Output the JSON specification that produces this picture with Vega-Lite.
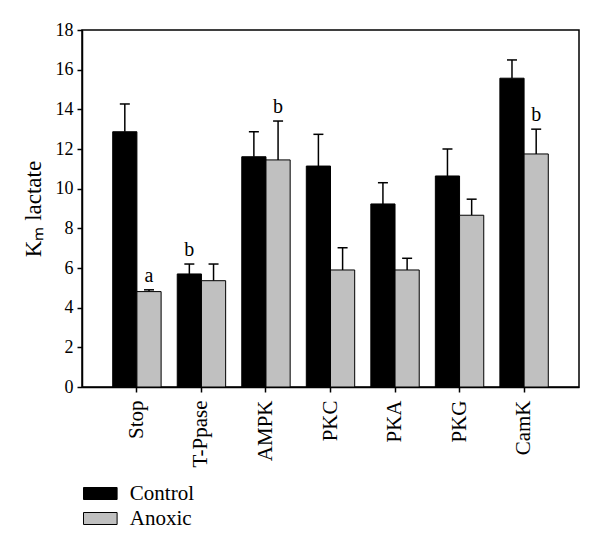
{
  "$schema": "https://vega.github.io/schema/vega-lite/v6.json",
  "width": 497,
  "height": 357,
  "autosize": "none",
  "padding": {"left": 82, "top": 30, "right": 21, "bottom": 166},
  "background": "white",
  "config": {
    "view": {"stroke": "black", "strokeWidth": 1.5},
    "font": "Liberation Serif",
    "axis": {"labelFont": "Liberation Serif", "titleFont": "Liberation Serif", "labelColor": "black", "titleColor": "black", "domainColor": "black", "tickColor": "black", "grid": false, "labelFontSize": 18, "tickSize": 5, "domainWidth": 1.5, "tickWidth": 1.5, "labelOverlap": false},
    "axisY": {"values": [0, 2, 4, 6, 8, 10, 12, 14, 16, 18], "labelPadding": 4, "titlePadding": 10, "titleFontSize": 23, "titleFontWeight": "normal"}
  },
  "data": {
    "values": [
      {"category": "Stop", "group": "Control", "value": 12.87, "err": 14.27, "letter": ""},
      {"category": "Stop", "group": "Anoxic", "value": 4.81, "err": 4.9, "letter": "a"},
      {"category": "T-Ppase", "group": "Control", "value": 5.70, "err": 6.20, "letter": "b"},
      {"category": "T-Ppase", "group": "Anoxic", "value": 5.36, "err": 6.20, "letter": ""},
      {"category": "AMPK", "group": "Control", "value": 11.61, "err": 12.87, "letter": ""},
      {"category": "AMPK", "group": "Anoxic", "value": 11.45, "err": 13.41, "letter": "b"},
      {"category": "PKC", "group": "Control", "value": 11.14, "err": 12.74, "letter": ""},
      {"category": "PKC", "group": "Anoxic", "value": 5.90, "err": 7.02, "letter": ""},
      {"category": "PKA", "group": "Control", "value": 9.23, "err": 10.30, "letter": ""},
      {"category": "PKA", "group": "Anoxic", "value": 5.90, "err": 6.49, "letter": ""},
      {"category": "PKG", "group": "Control", "value": 10.64, "err": 12.0, "letter": ""},
      {"category": "PKG", "group": "Anoxic", "value": 8.66, "err": 9.47, "letter": ""},
      {"category": "CamK", "group": "Control", "value": 15.57, "err": 16.49, "letter": ""},
      {"category": "CamK", "group": "Anoxic", "value": 11.75, "err": 13.0, "letter": "b"}
    ]
  },
  "encoding": {
    "x": {
      "field": "category", "type": "nominal",
      "sort": ["Stop", "T-Ppase", "AMPK", "PKC", "PKA", "PKG", "CamK"],
      "scale": {"paddingInner": 0.25, "paddingOuter": 0.476},
      "axis": {"title": null, "labelAngle": 270, "labelPadding": 8, "labelFontSize": 21}
    },
    "xOffset": {"field": "group", "type": "nominal", "sort": ["Control", "Anoxic"], "scale": {"domain": ["Control", "Anoxic"], "paddingInner": 0, "paddingOuter": 0}}
  },
  "layer": [
    {
      "mark": {"type": "rule", "stroke": "black", "strokeWidth": 1.5},
      "encoding": {
        "y": {"field": "value", "type": "quantitative", "title": "Kₘ lactate", "scale": {"domain": [0, 18], "nice": false}},
        "y2": {"field": "err"}
      }
    },
    {
      "mark": {"type": "tick", "color": "black", "size": 10, "thickness": 1.5, "orient": "horizontal", "opacity": 1},
      "encoding": {
        "y": {"field": "err", "type": "quantitative", "title": "Kₘ lactate", "scale": {"domain": [0, 18], "nice": false}}
      }
    },
    {
      "mark": {"type": "bar", "stroke": "black", "strokeWidth": 1, "opacity": 1},
      "encoding": {
        "y": {"field": "value", "type": "quantitative", "title": "Kₘ lactate", "scale": {"domain": [0, 18], "nice": false}},
        "color": {
          "field": "group", "type": "nominal",
          "scale": {"domain": ["Control", "Anoxic"], "range": ["#000000", "#c0c0c0"]},
          "legend": {
            "title": null, "orient": "none", "legendX": 5.8, "legendY": 451, "padding": 0,
            "symbolType": "M-1.4,-0.5H1.4V0.5H-1.4Z", "symbolSize": 576,
            "symbolStrokeColor": "black", "symbolStrokeWidth": 1, "symbolOpacity": 1,
            "labelFont": "Liberation Serif", "labelFontSize": 21, "labelColor": "black",
            "labelOffset": 17, "rowPadding": 2
          }
        }
      }
    },
    {
      "transform": [{"filter": "datum.letter != ''"}],
      "mark": {"type": "text", "baseline": "bottom", "dy": -4, "fontSize": 20, "font": "Liberation Serif", "color": "black"},
      "encoding": {
        "y": {"field": "err", "type": "quantitative", "title": "Kₘ lactate", "scale": {"domain": [0, 18], "nice": false}},
        "text": {"field": "letter"}
      }
    }
  ]
}
